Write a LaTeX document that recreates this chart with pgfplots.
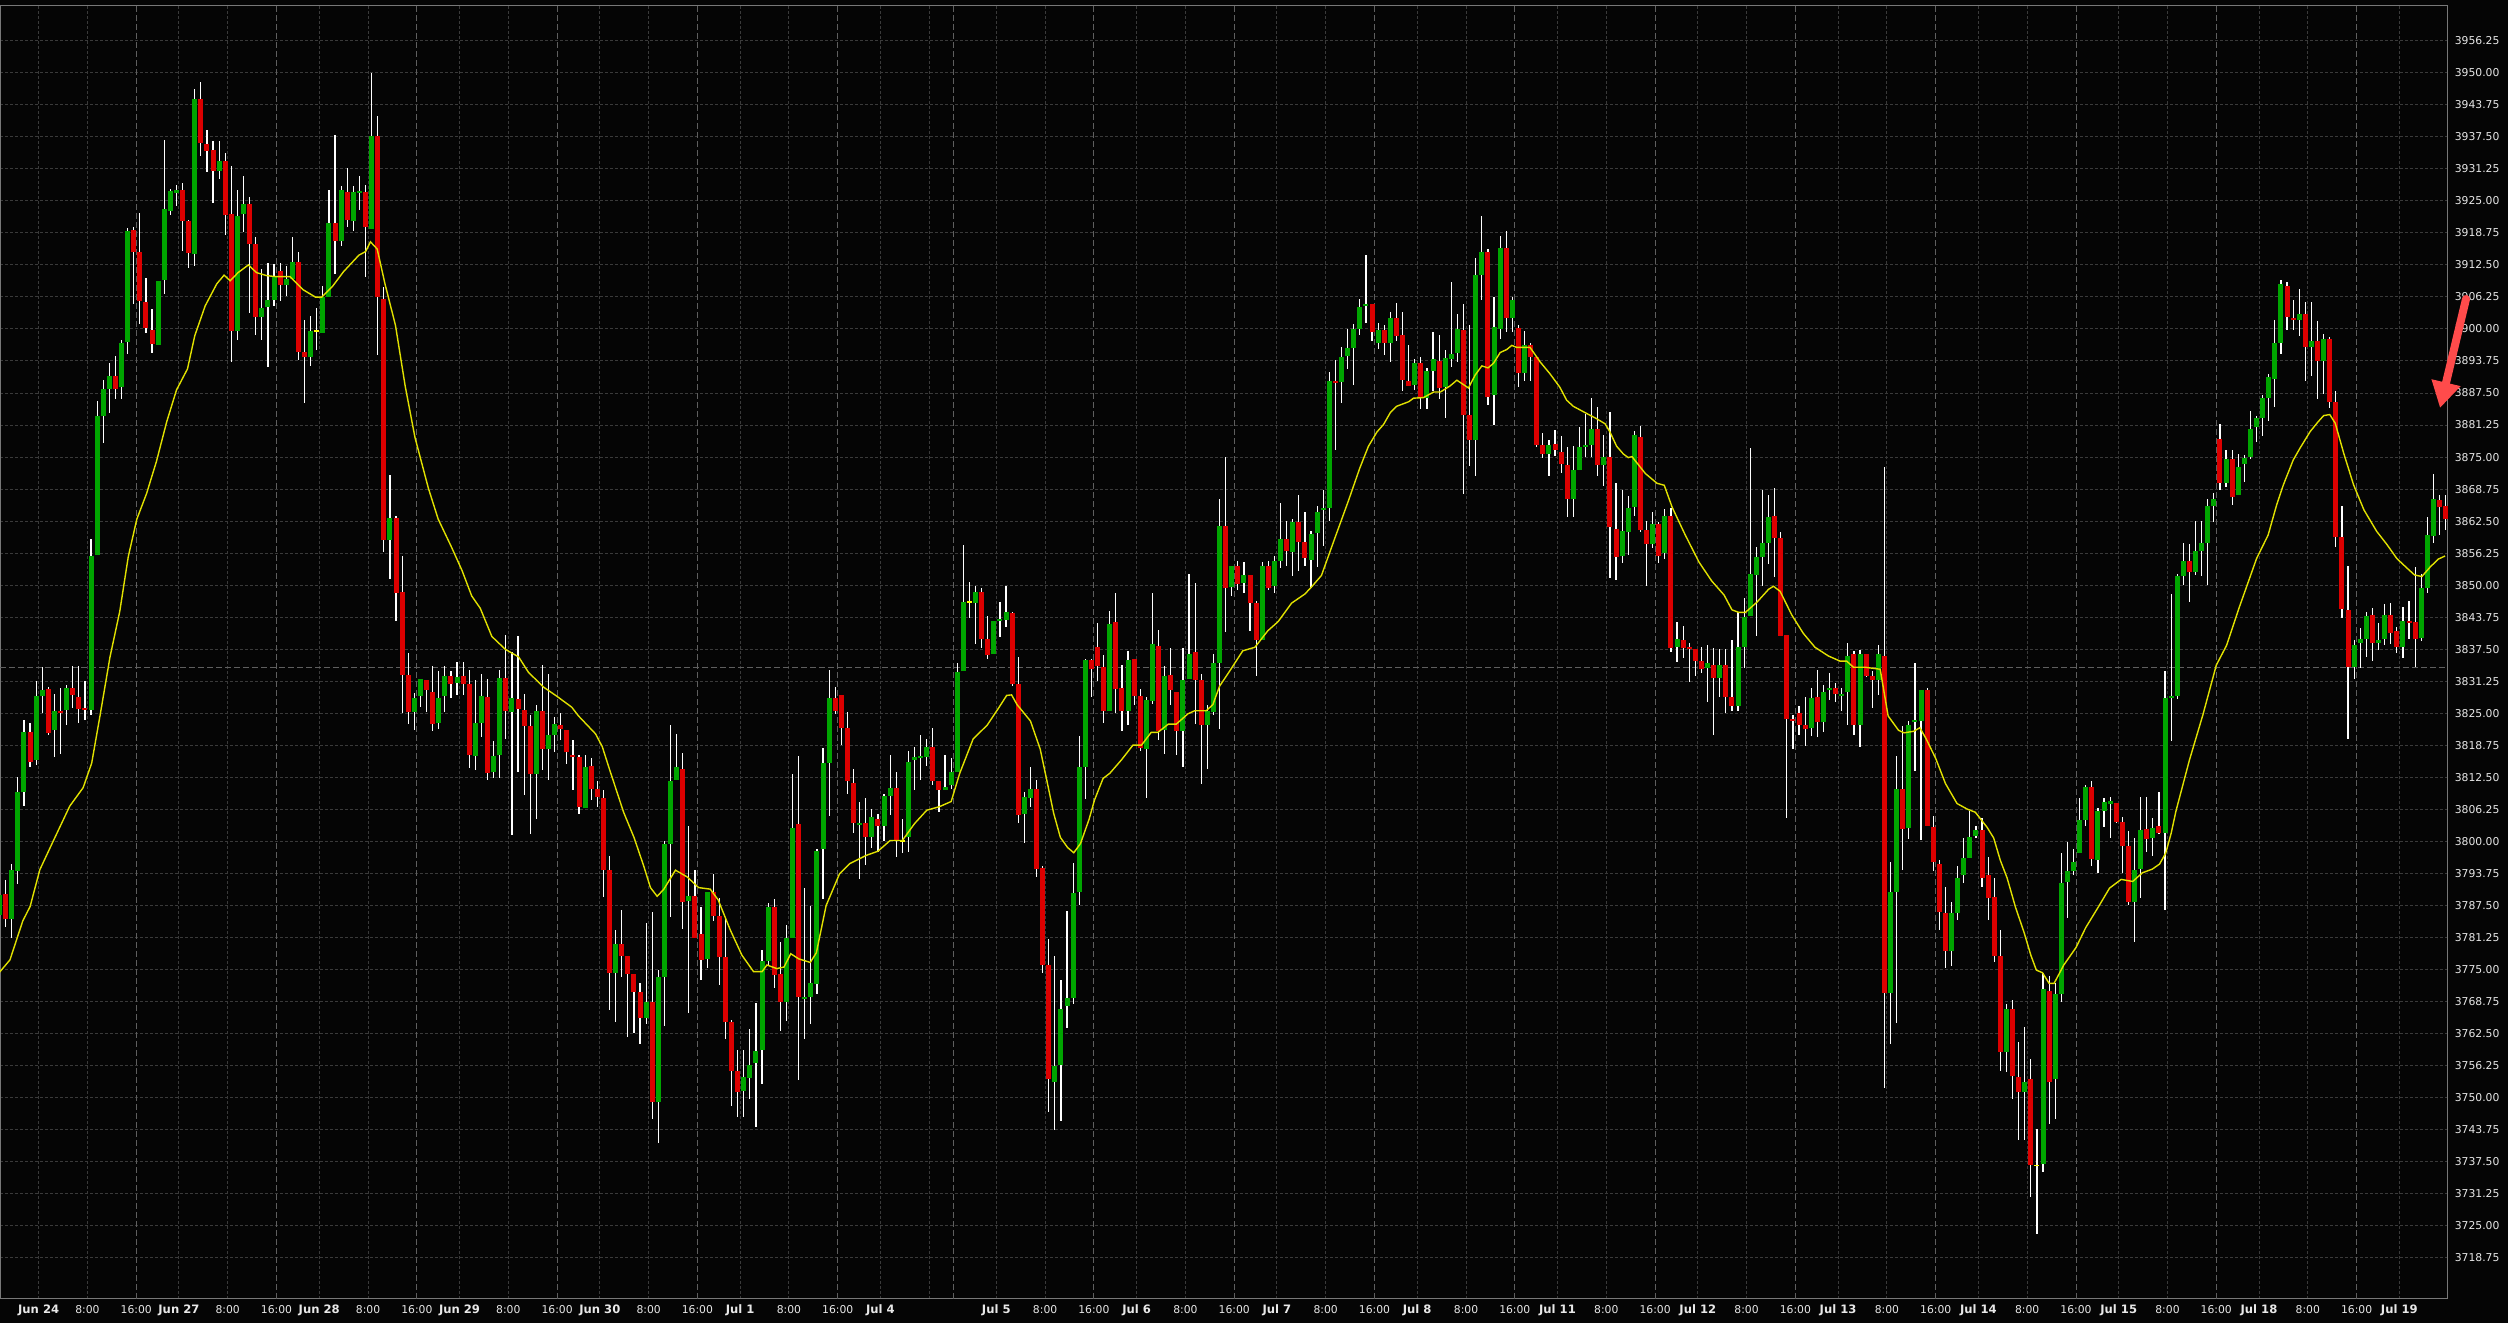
\documentclass[border=0pt]{standalone}
\usepackage{fontspec}
\setmainfont{DejaVu Sans}
\usepackage{pgfplots}
\pgfplotsset{compat=1.18}
\usepackage{pgfplotstable}
\usetikzlibrary{arrows.meta}

\definecolor{bgcol}{RGB}{5,5,5}
\definecolor{gridcol}{RGB}{58,58,58}
\definecolor{sesscol}{RGB}{95,95,95}
\definecolor{framecol}{RGB}{120,120,120}
\definecolor{txtcol}{RGB}{232,232,232}
\definecolor{upcol}{RGB}{0,165,0}
\definecolor{dncol}{RGB}{220,0,0}
\definecolor{dojicol}{RGB}{255,255,0}
\definecolor{macol}{RGB}{225,225,0}
\definecolor{arrowcol}{RGB}{255,75,75}

\newcommand\dt[1]{{\fontsize{5.8}{6}\selectfont\bfseries #1}}

% hourly candles: index, open, high, low, close
\pgfplotstableread{
k o h l c
0 3785.6 3791.5 3783.5 3789.5
1 3789.7 3792.5 3783.3 3784.8
2 3784.8 3795.7 3781.1 3794.5
3 3794.3 3812.5 3791.7 3809.7
4 3809.7 3823.7 3806.9 3821.4
5 3821.4 3823.1 3814.5 3815.6
6 3815.8 3831.3 3815.0 3828.4
7 3828.4 3834.1 3825.1 3829.5
8 3829.7 3830.2 3820.8 3821.2
9 3821.7 3828.8 3816.5 3825.5
10 3825.5 3830.0 3817.0 3825.1
11 3825.6 3830.5 3822.8 3830.0
12 3830.0 3834.3 3826.1 3828.5
13 3828.2 3834.3 3823.2 3825.8
14 3826.0 3831.3 3823.7 3825.7
15 3825.7 3859.0 3824.6 3855.7
16 3856.0 3886.0 3856.0 3883.1
17 3883.1 3890.0 3877.7 3888.3
18 3888.3 3893.3 3883.7 3890.8
19 3890.8 3894.7 3886.4 3888.3
20 3888.6 3897.8 3886.4 3897.3
21 3897.4 3919.7 3895.1 3919.2
22 3919.3 3919.9 3904.9 3915.0
23 3915.0 3922.7 3901.0 3905.4
24 3905.2 3909.9 3899.3 3900.1
25 3899.8 3904.0 3895.4 3897.1
26 3896.9 3909.4 3896.9 3909.4
27 3909.5 3936.9 3906.9 3923.4
28 3923.0 3927.4 3922.2 3927.0
29 3926.6 3928.1 3924.1 3927.2
30 3927.2 3928.5 3915.3 3921.0
31 3921.1 3921.3 3911.8 3914.8
32 3914.7 3946.9 3912.2 3944.9
33 3944.9 3948.2 3933.8 3936.2
34 3936.1 3938.8 3930.6 3934.7
35 3934.9 3936.7 3924.5 3930.9
36 3930.9 3936.7 3929.3 3932.8
37 3932.8 3934.3 3918.3 3922.2
38 3922.5 3931.8 3893.5 3899.7
39 3899.7 3927.2 3897.8 3922.0
40 3922.5 3929.9 3919.0 3924.4
41 3924.4 3925.8 3903.2 3916.6
42 3916.5 3918.0 3898.9 3902.4
43 3902.4 3911.8 3897.8 3904.1
44 3904.2 3912.8 3892.5 3905.7
45 3905.7 3912.7 3904.5 3910.2
46 3911.4 3912.9 3905.5 3908.5
47 3908.5 3912.2 3906.5 3909.7
48 3909.7 3918.0 3909.5 3913.1
49 3913.1 3915.1 3894.0 3895.6
50 3895.6 3901.7 3885.6 3894.6
51 3894.6 3902.5 3892.8 3899.7
52 3899.7 3904.1 3895.8 3899.7
53 3899.2 3908.4 3899.2 3906.2
54 3906.2 3927.1 3906.2 3920.6
55 3920.6 3937.9 3910.7 3917.2
56 3917.2 3927.9 3916.1 3927.1
57 3926.8 3931.4 3919.8 3921.3
58 3921.1 3927.9 3919.2 3926.8
59 3926.6 3929.8 3923.2 3926.9
60 3926.8 3928.1 3910.2 3919.9
61 3919.6 3950.0 3919.6 3937.6
62 3937.6 3941.5 3895.0 3906.2
63 3905.9 3908.2 3856.4 3858.9
64 3858.9 3871.6 3851.2 3863.2
65 3863.2 3863.6 3843.0 3848.5
66 3848.7 3855.7 3825.1 3832.5
67 3832.5 3836.8 3822.9 3825.3
68 3825.3 3829.0 3821.8 3828.1
69 3828.3 3831.7 3826.3 3831.7
70 3831.5 3831.5 3825.3 3829.6
71 3829.1 3834.2 3821.6 3822.9
72 3823.1 3833.2 3821.9 3828.1
73 3828.3 3834.3 3825.3 3832.2
74 3832.2 3833.2 3828.1 3830.8
75 3830.9 3835.0 3828.6 3832.2
76 3832.2 3835.0 3828.6 3830.8
77 3830.8 3833.5 3814.3 3816.9
78 3816.6 3831.5 3813.9 3823.1
79 3823.1 3832.7 3820.3 3828.4
80 3828.1 3831.7 3811.9 3813.3
81 3813.6 3819.6 3812.3 3816.6
82 3816.8 3833.5 3812.3 3832.0
83 3832.0 3840.2 3820.1 3825.4
84 3825.3 3837.0 3801.2 3828.1
85 3827.9 3840.2 3813.6 3825.9
86 3825.6 3828.8 3809.1 3822.6
87 3822.6 3824.6 3801.4 3813.1
88 3813.1 3826.6 3804.4 3825.5
89 3825.5 3834.5 3813.9 3818.1
90 3818.1 3832.7 3812.1 3820.8
91 3820.8 3824.3 3817.4 3822.9
92 3822.7 3825.0 3819.8 3821.9
93 3821.7 3821.7 3815.2 3817.4
94 3816.9 3819.9 3810.0 3816.6
95 3816.5 3816.9 3805.3 3806.8
96 3806.6 3816.9 3806.6 3814.5
97 3814.7 3816.3 3808.1 3810.2
98 3810.2 3811.9 3806.8 3808.6
99 3808.4 3810.0 3789.1 3794.5
100 3794.5 3797.1 3767.2 3774.4
101 3774.4 3782.7 3764.7 3780.0
102 3780.0 3786.6 3773.6 3777.6
103 3777.6 3777.6 3761.8 3774.1
104 3774.1 3774.1 3762.6 3770.7
105 3770.7 3772.4 3760.5 3765.6
106 3765.6 3784.2 3764.4 3768.6
107 3768.6 3786.3 3745.9 3749.2
108 3749.2 3775.0 3741.2 3773.6
109 3773.5 3800.0 3764.0 3799.5
110 3799.5 3822.7 3785.2 3811.8
111 3812.0 3821.0 3812.0 3814.5
112 3814.1 3817.3 3783.0 3788.2
113 3788.4 3803.1 3766.6 3789.4
114 3789.3 3794.4 3781.1 3781.1
115 3782.0 3787.2 3772.9 3776.9
116 3777.1 3790.1 3775.3 3790.1
117 3790.1 3793.6 3784.5 3785.4
118 3785.4 3788.9 3772.0 3777.4
119 3777.4 3784.9 3761.4 3764.7
120 3764.7 3765.2 3748.4 3755.3
121 3755.3 3759.3 3746.3 3751.1
122 3751.3 3759.3 3746.3 3754.0
123 3753.9 3763.5 3749.8 3756.3
124 3756.7 3768.5 3744.2 3759.1
125 3759.3 3778.8 3752.7 3776.6
126 3776.6 3788.0 3775.8 3787.2
127 3787.2 3788.8 3771.4 3773.9
128 3774.2 3780.4 3763.1 3768.6
129 3768.6 3783.7 3764.9 3781.2
130 3781.1 3813.2 3781.1 3802.7
131 3803.4 3816.7 3753.4 3769.6
132 3769.4 3791.0 3761.5 3769.7
133 3769.7 3787.5 3764.3 3772.4
134 3772.2 3798.5 3770.2 3798.1
135 3798.6 3818.3 3788.8 3815.3
136 3815.3 3833.5 3805.0 3828.0
137 3828.0 3830.2 3824.8 3825.5
138 3828.5 3828.5 3818.8 3822.2
139 3822.2 3825.2 3809.2 3811.8
140 3811.4 3814.1 3801.7 3803.7
141 3803.3 3807.8 3792.7 3803.7
142 3803.7 3808.4 3795.5 3800.9
143 3800.9 3806.4 3798.8 3804.8
144 3804.4 3805.3 3798.0 3803.1
145 3803.1 3809.2 3800.0 3808.9
146 3808.9 3816.9 3805.1 3810.4
147 3810.4 3813.6 3797.0 3800.2
148 3800.2 3804.3 3797.8 3800.2
149 3800.8 3817.6 3798.0 3815.5
150 3815.9 3818.4 3810.0 3816.5
151 3816.3 3820.8 3812.0 3816.7
152 3816.5 3820.0 3814.7 3818.4
153 3818.4 3822.1 3811.0 3811.8
154 3811.8 3811.8 3805.7 3810.0
155 3810.0 3816.9 3810.0 3810.6
156 3811.0 3816.3 3810.2 3813.6
157 3813.6 3834.9 3813.6 3833.1
158 3833.2 3857.8 3833.2 3846.8
159 3846.7 3850.7 3843.7 3846.7
160 3846.5 3849.9 3838.6 3848.6
161 3848.6 3849.4 3837.8 3839.6
162 3839.6 3843.9 3835.7 3836.3
163 3836.6 3843.0 3836.6 3843.0
164 3843.1 3846.7 3840.0 3843.5
165 3843.3 3849.9 3841.9 3844.7
166 3844.5 3844.8 3830.3 3830.7
167 3830.7 3836.1 3803.7 3805.2
168 3805.3 3809.6 3799.8 3808.6
169 3808.4 3814.5 3806.8 3810.2
170 3810.2 3812.0 3793.1 3794.7
171 3794.9 3795.3 3774.3 3775.9
172 3775.9 3780.9 3747.3 3753.6
173 3753.1 3777.7 3743.8 3756.1
174 3756.3 3773.0 3745.4 3767.3
175 3767.9 3786.5 3763.6 3769.4
176 3769.4 3795.8 3768.3 3790.0
177 3790.2 3820.6 3787.6 3814.5
178 3814.5 3835.7 3808.2 3835.4
179 3835.4 3835.7 3828.1 3833.7
180 3837.9 3842.7 3831.4 3834.3
181 3834.0 3836.4 3823.1 3825.5
182 3825.5 3844.9 3825.5 3842.4
183 3842.8 3848.5 3825.1 3829.8
184 3829.9 3834.4 3821.6 3825.5
185 3825.5 3837.2 3822.7 3835.4
186 3835.7 3835.7 3826.7 3828.4
187 3828.3 3829.7 3817.7 3818.3
188 3818.0 3828.2 3808.4 3827.7
189 3827.4 3848.5 3826.9 3838.5
190 3838.2 3841.3 3819.8 3821.6
191 3821.8 3834.3 3817.1 3832.3
192 3832.5 3837.7 3826.7 3829.6
193 3829.1 3829.1 3816.8 3821.6
194 3821.6 3837.7 3814.6 3831.6
195 3831.7 3852.2 3831.7 3836.6
196 3836.9 3850.5 3822.9 3831.5
197 3831.6 3832.6 3811.3 3822.7
198 3822.7 3826.7 3814.1 3825.4
199 3825.3 3836.6 3824.7 3834.8
200 3834.8 3866.9 3822.0 3861.5
201 3861.6 3875.1 3840.9 3849.4
202 3849.6 3853.8 3848.0 3853.8
203 3853.7 3854.8 3849.1 3850.3
204 3850.5 3854.5 3848.4 3851.9
205 3851.9 3851.9 3841.1 3846.5
206 3846.5 3846.9 3832.3 3839.3
207 3839.3 3854.5 3839.3 3853.8
208 3853.8 3854.8 3849.1 3849.4
209 3849.8 3855.7 3848.5 3854.7
210 3854.8 3866.0 3853.4 3859.0
211 3859.0 3862.6 3853.8 3856.7
212 3856.5 3862.9 3851.9 3862.3
213 3862.3 3867.6 3852.8 3858.5
214 3858.5 3864.2 3853.8 3855.3
215 3855.0 3860.6 3849.4 3860.1
216 3860.2 3865.4 3853.5 3864.3
217 3864.6 3868.6 3857.7 3865.0
218 3865.1 3891.7 3862.6 3889.9
219 3889.9 3894.0 3876.3 3889.5
220 3889.7 3896.4 3885.5 3894.5
221 3894.8 3900.0 3892.2 3896.2
222 3896.3 3900.9 3889.1 3900.0
223 3900.0 3905.9 3898.9 3904.3
224 3904.5 3914.4 3901.1 3904.9
225 3904.9 3904.9 3897.7 3899.5
226 3897.2 3901.1 3896.1 3899.9
227 3899.9 3900.8 3895.0 3897.3
228 3897.2 3903.4 3893.5 3902.2
229 3902.2 3905.1 3897.7 3898.7
230 3898.8 3903.4 3888.0 3890.1
231 3889.8 3896.9 3888.9 3888.9
232 3889.1 3894.2 3888.0 3893.4
233 3893.4 3894.5 3884.3 3886.5
234 3886.6 3892.4 3884.4 3891.9
235 3891.9 3899.4 3888.0 3894.2
236 3893.8 3898.8 3886.4 3888.4
237 3888.6 3895.9 3882.7 3894.4
238 3894.2 3909.1 3892.6 3895.2
239 3895.3 3903.0 3893.6 3899.9
240 3899.9 3904.8 3867.8 3883.2
241 3883.2 3900.8 3873.2 3878.3
242 3878.3 3913.9 3871.3 3910.5
243 3910.5 3922.0 3905.7 3915.0
244 3915.0 3915.7 3885.1 3886.7
245 3887.1 3906.2 3881.3 3900.4
246 3900.1 3918.2 3898.0 3915.8
247 3915.8 3919.2 3899.4 3902.2
248 3902.2 3906.2 3899.4 3905.7
249 3900.1 3900.8 3888.7 3891.5
250 3891.5 3899.7 3889.8 3896.9
251 3896.9 3897.3 3889.8 3894.5
252 3894.5 3894.5 3876.9 3877.4
253 3877.4 3879.7 3874.9 3875.7
254 3875.7 3878.3 3871.3 3877.4
255 3877.6 3880.2 3875.3 3876.4
256 3876.0 3879.2 3871.9 3873.6
257 3873.5 3876.9 3863.3 3866.8
258 3866.8 3877.1 3863.3 3872.4
259 3872.4 3880.8 3872.4 3877.0
260 3877.0 3883.4 3875.0 3877.4
261 3877.4 3886.5 3875.0 3880.5
262 3880.5 3884.8 3871.4 3873.5
263 3873.5 3879.4 3869.4 3875.1
264 3875.1 3883.9 3851.5 3861.4
265 3860.9 3870.0 3851.1 3855.6
266 3855.8 3868.6 3854.4 3860.5
267 3860.4 3867.5 3855.8 3865.1
268 3865.2 3880.0 3863.6 3879.3
269 3879.0 3881.0 3860.4 3860.8
270 3860.7 3862.6 3849.8 3858.0
271 3858.1 3864.2 3857.2 3861.9
272 3861.9 3862.3 3854.4 3855.8
273 3856.2 3864.8 3855.2 3863.5
274 3863.5 3865.0 3836.9 3837.8
275 3838.0 3842.9 3835.0 3839.5
276 3839.3 3842.0 3835.8 3837.8
277 3837.9 3838.8 3831.1 3837.5
278 3837.5 3837.5 3832.3 3835.2
279 3835.2 3837.9 3832.9 3833.7
280 3833.8 3838.3 3827.3 3834.8
281 3834.4 3837.8 3820.7 3831.9
282 3831.9 3837.5 3828.1 3834.4
283 3834.4 3837.5 3825.1 3828.2
284 3828.2 3839.3 3825.5 3826.4
285 3826.4 3844.7 3825.4 3837.9
286 3837.9 3847.5 3833.8 3843.8
287 3844.0 3876.7 3844.0 3852.2
288 3852.0 3857.4 3840.0 3855.5
289 3855.5 3868.6 3849.8 3858.2
290 3858.2 3867.7 3854.1 3863.3
291 3863.5 3868.9 3851.6 3859.2
292 3859.2 3860.3 3840.1 3840.1
293 3840.3 3840.3 3804.6 3823.9
294 3824.0 3824.7 3818.1 3823.6
295 3825.0 3826.4 3820.8 3822.7
296 3822.7 3828.1 3818.6 3822.0
297 3822.2 3830.0 3820.6 3828.0
298 3828.1 3833.5 3820.3 3823.3
299 3823.3 3830.5 3821.4 3829.1
300 3829.6 3832.8 3827.7 3829.9
301 3830.0 3830.9 3827.3 3828.8
302 3828.5 3830.0 3825.4 3828.8
303 3829.1 3838.7 3822.7 3836.2
304 3836.6 3837.1 3820.8 3822.7
305 3822.7 3837.3 3818.4 3836.6
306 3836.6 3836.6 3832.1 3832.3
307 3832.2 3833.3 3826.0 3831.5
308 3831.5 3838.3 3828.6 3836.6
309 3836.2 3873.0 3751.9 3770.5
310 3770.5 3796.0 3760.5 3790.1
311 3790.2 3816.6 3764.6 3810.3
312 3810.3 3822.5 3794.4 3802.4
313 3802.6 3823.5 3800.5 3822.8
314 3823.4 3834.8 3813.8 3823.7
315 3823.5 3829.6 3800.2 3829.6
316 3829.6 3830.0 3803.1 3803.1
317 3802.9 3805.0 3794.3 3796.0
318 3795.6 3796.3 3782.7 3786.3
319 3786.1 3791.1 3775.4 3778.6
320 3778.6 3788.2 3775.7 3786.1
321 3786.1 3795.3 3784.6 3792.9
322 3793.4 3800.7 3791.9 3796.8
323 3796.8 3806.0 3796.8 3800.8
324 3801.1 3803.0 3800.7 3802.3
325 3802.3 3804.5 3791.1 3792.9
326 3793.4 3797.0 3784.6 3789.0
327 3789.2 3792.9 3776.4 3777.6
328 3777.6 3782.7 3755.2 3758.9
329 3758.9 3768.3 3755.0 3767.3
330 3767.3 3769.1 3749.7 3754.3
331 3754.0 3760.9 3741.7 3751.2
332 3751.2 3763.8 3741.7 3753.1
333 3753.6 3757.6 3730.6 3736.8
334 3736.8 3743.9 3723.5 3736.8
335 3737.1 3774.4 3735.6 3771.2
336 3770.8 3773.7 3744.8 3753.1
337 3753.6 3772.3 3745.8 3770.3
338 3770.3 3797.8 3768.6 3791.9
339 3792.1 3799.9 3785.1 3794.3
340 3794.3 3798.5 3793.4 3796.0
341 3797.8 3808.4 3797.8 3804.2
342 3804.2 3811.1 3803.1 3810.6
343 3810.6 3811.8 3795.3 3796.5
344 3796.3 3806.5 3793.9 3806.0
345 3806.0 3808.4 3802.8 3807.7
346 3807.4 3808.6 3800.7 3807.9
347 3807.6 3807.6 3803.6 3803.8
348 3803.9 3804.8 3793.9 3799.2
349 3799.2 3802.1 3787.6 3788.2
350 3788.2 3800.7 3780.3 3794.5
351 3794.6 3808.6 3789.0 3802.3
352 3802.4 3808.6 3798.0 3800.4
353 3800.6 3804.5 3797.1 3802.6
354 3803.1 3809.7 3801.4 3801.6
355 3801.6 3833.2 3786.6 3828.0
356 3828.0 3848.2 3819.6 3828.3
357 3828.3 3852.2 3827.8 3851.9
358 3851.8 3858.2 3850.0 3854.7
359 3854.7 3858.0 3846.8 3852.6
360 3852.6 3862.5 3852.0 3856.7
361 3856.7 3862.5 3851.8 3858.2
362 3858.3 3866.9 3850.0 3865.5
363 3865.5 3868.1 3862.3 3866.8
364 3878.5 3881.5 3868.5 3870.0
365 3870.0 3876.4 3869.2 3874.6
366 3874.6 3876.4 3865.7 3867.3
367 3867.6 3875.6 3867.6 3873.0
368 3873.6 3875.5 3870.2 3874.8
369 3875.1 3884.0 3874.6 3880.5
370 3880.9 3883.1 3878.0 3882.6
371 3882.7 3887.2 3879.1 3886.5
372 3886.6 3891.2 3882.0 3890.7
373 3890.3 3901.8 3884.8 3897.3
374 3897.3 3909.6 3895.1 3908.8
375 3908.4 3909.2 3899.8 3902.4
376 3902.2 3905.7 3899.8 3901.9
377 3901.8 3907.9 3898.7 3902.9
378 3902.9 3905.3 3889.9 3896.5
379 3896.4 3905.3 3890.8 3897.7
380 3897.7 3901.6 3886.4 3893.8
381 3893.8 3899.0 3887.4 3898.0
382 3898.0 3898.5 3884.5 3885.8
383 3885.7 3887.9 3857.4 3859.4
384 3859.4 3865.5 3843.7 3845.3
385 3845.2 3853.8 3820.1 3834.1
386 3834.1 3839.3 3831.8 3838.3
387 3838.7 3841.6 3833.9 3839.5
388 3839.5 3844.8 3835.9 3844.0
389 3844.2 3845.6 3835.3 3838.8
390 3838.8 3842.7 3837.4 3839.3
391 3839.5 3846.3 3838.3 3844.2
392 3844.2 3846.5 3838.5 3840.7
393 3841.1 3841.9 3836.7 3837.9
394 3837.9 3845.7 3835.9 3843.0
395 3843.0 3847.0 3839.5 3842.6
396 3842.9 3853.6 3834.1 3839.6
397 3839.8 3852.2 3839.2 3849.4
398 3849.4 3863.4 3848.5 3859.8
399 3859.7 3871.7 3858.3 3866.8
400 3866.6 3867.6 3859.8 3865.3
401 3865.4 3867.6 3860.8 3862.9
}\candles

\begin{document}
\begin{tikzpicture}
\fill[bgcol] (0,-12pt) rectangle (1254pt,649.5pt);
\useasboundingbox (0,-12pt) rectangle (1254pt,649.5pt);
\begin{axis}[
    scale only axis,
    width=1224pt, height=646.5pt,
    xmin=0.066, xmax=401.38,
    ymin=3710.73, ymax=3963.02,
    axis line style={draw=framecol, line width=0.5pt},
    major tick length=0pt,
    scaled y ticks=false,
    ytick pos=right, yticklabel pos=right,
    ytick={3718.75,3725,3731.25,3737.5,3743.75,3750,3756.25,3762.5,3768.75,3775,3781.25,3787.5,3793.75,3800,3806.25,3812.5,3818.75,3825,3831.25,3837.5,3843.75,3850,3856.25,3862.5,3868.75,3875,3881.25,3887.5,3893.75,3900,3906.25,3912.5,3918.75,3925,3931.25,3937.5,3943.75,3950,3956.25},
    yticklabel={\pgfmathprintnumber[fixed,fixed zerofill,precision=2,1000 sep={},assume math mode=true]{\tick}},
    yticklabel style={font=\fontsize{5.4}{6}\selectfont, text=txtcol, anchor=west, inner sep=0pt, xshift=3.2pt},
    xtick={6.4,14.4,29.4,37.4,52.4,60.4,75.4,83.4,98.4,106.4,121.4,129.4,144.4,152.4,163.4,171.4,186.4,194.4,209.4,217.4,232.4,240.4,255.4,263.4,278.4,286.4,301.4,309.4,324.4,332.4,347.4,355.4,370.4,378.4,393.4},
    xticklabels={\dt{Jun 24},8:00,\dt{Jun 27},8:00,\dt{Jun 28},8:00,\dt{Jun 29},8:00,\dt{Jun 30},8:00,\dt{Jul 1},8:00,\dt{Jul 4},{},\dt{Jul 5},8:00,\dt{Jul 6},8:00,\dt{Jul 7},8:00,\dt{Jul 8},8:00,\dt{Jul 11},8:00,\dt{Jul 12},8:00,\dt{Jul 13},8:00,\dt{Jul 14},8:00,\dt{Jul 15},8:00,\dt{Jul 18},8:00,\dt{Jul 19}},
    xticklabel style={font=\fontsize{5.4}{6}\selectfont, text=txtcol, anchor=base, inner sep=0pt, yshift=-7.4pt},
    grid=major,
    major grid style={draw=gridcol, line width=0.5pt, dash pattern=on 1.5pt off 1pt},
    extra x ticks={22.4,45.4,68.4,91.4,114.4,137.4,156.4,179.4,202.4,225.4,248.4,271.4,294.4,317.4,340.4,363.4,386.4},
    extra x tick labels={16:00,16:00,16:00,16:00,16:00,16:00,{},16:00,16:00,16:00,16:00,16:00,16:00,16:00,16:00,16:00,16:00},
    extra x tick style={grid=major, major grid style={draw=sesscol, line width=0.5pt, dash pattern=on 3pt off 1.5pt}},
    extra y ticks={3833.85},
    extra y tick labels={},
    extra y tick style={grid=major, major grid style={draw=sesscol, line width=0.5pt, dash pattern=on 3pt off 1.5pt}},
]

% wicks
\addplot[draw=none, mark=none,
    error bars/.cd, y dir=both, y explicit, error mark=none,
    error bar style={draw=white, solid, line width=0.6pt}]
  table[x=k, y expr={(\thisrow{h}+\thisrow{l})/2}, y error expr={(\thisrow{h}-\thisrow{l})/2}] {\candles};

% up bodies
\addplot[draw=none, mark=none,
    restrict expr to domain={\thisrow{c}-\thisrow{o}}{0.01:1000},
    error bars/.cd, y dir=both, y explicit, error mark=none,
    error bar style={draw=upcol, solid, line width=2.5pt}]
  table[x=k, y expr={(\thisrow{o}+\thisrow{c})/2}, y error expr={max(abs(\thisrow{c}-\thisrow{o})/2,0.12)}] {\candles};

% down bodies
\addplot[draw=none, mark=none,
    restrict expr to domain={\thisrow{o}-\thisrow{c}}{0.01:1000},
    error bars/.cd, y dir=both, y explicit, error mark=none,
    error bar style={draw=dncol, solid, line width=2.5pt}]
  table[x=k, y expr={(\thisrow{o}+\thisrow{c})/2}, y error expr={max(abs(\thisrow{c}-\thisrow{o})/2,0.12)}] {\candles};

% unchanged (open = close)
\addplot[draw=none, mark=none,
    restrict expr to domain={abs(\thisrow{c}-\thisrow{o})}{0:0.005},
    error bars/.cd, y dir=both, y explicit, error mark=none,
    error bar style={draw=dojicol, solid, line width=2.5pt}]
  table[x=k, y expr={(\thisrow{o}+\thisrow{c})/2}, y error expr={0.14}] {\candles};

% moving average
\addplot[macol, solid, line width=0.7pt, mark=none] coordinates {
(0,3774.5) (1.7,3776.9) (3.8,3784.5) (5.0,3787.3) (6.6,3794.5) (8.8,3800.1) (11.5,3806.9) (13.7,3810.5) (15.1,3815.3) (16.5,3824.8) (18.1,3836.0) (19.7,3844.9) (21.1,3855.6) (22.5,3862.9) (24.1,3867.9) (25.7,3874.1) (27.4,3881.9) (29.0,3888.1) (30.8,3892.2) (32.0,3898.7) (33.7,3904.5) (35.6,3908.8) (36.8,3910.5) (37.8,3909.4) (39.1,3911.0) (40.8,3912.5) (42.1,3911.0) (43.8,3910.4) (45.4,3910.2) (47.6,3910.2) (49.7,3907.7) (51.8,3906.2) (52.8,3906.2) (54.5,3908.2) (56.4,3911.2) (58.9,3914.4) (60.0,3915.1) (60.8,3917.0) (61.9,3915.6) (63.2,3908.7) (64.9,3900.7) (66.5,3888.8) (68.1,3878.8) (70.3,3868.9) (71.9,3862.9) (74.1,3857.4) (75.8,3852.9) (77.4,3847.9) (78.8,3845.5) (80.7,3840.0) (82.9,3837.5) (85.1,3836.0) (86.7,3833.0) (89.2,3830.1) (91.4,3828.3) (93.8,3826.2) (94.9,3824.5) (97.7,3821.0) (98.8,3818.5) (99.9,3814.4) (102.3,3805.7) (104.0,3800.8) (105.6,3795.2) (106.7,3791.0) (107.8,3789.3) (108.9,3790.7) (110.8,3794.4) (112.7,3793.1) (114.6,3791.0) (116.5,3790.7) (117.8,3788.6) (119.8,3782.7) (121.7,3777.8) (123.6,3774.6) (125.0,3774.6) (125.8,3775.9) (127.4,3775.2) (128.6,3775.5) (129.7,3778.1) (131.0,3777.1) (132.9,3776.4) (133.9,3778.3) (135.5,3787.5) (137.7,3793.7) (139.4,3795.7) (142.1,3797.3) (144.0,3798.1) (146.0,3800.2) (148.0,3800.2) (150.0,3803.5) (152.0,3806.1) (154.1,3806.8) (156.0,3807.8) (157.4,3813.3) (159.6,3820.0) (161.9,3822.7) (163.7,3825.9) (165.1,3828.5) (165.9,3828.6) (166.8,3826.7) (169.0,3823.5) (170.6,3818.0) (171.7,3811.8) (172.8,3805.5) (173.9,3800.8) (175.1,3798.8) (176.1,3797.8) (177.2,3799.6) (178.6,3804.3) (179.5,3808.1) (180.9,3812.3) (182.0,3813.3) (183.9,3815.9) (185.8,3818.8) (187.2,3818.8) (188.8,3821.3) (189.9,3821.3) (191.6,3822.9) (192.9,3822.9) (194.8,3824.9) (195.9,3825.5) (197.8,3825.5) (198.9,3826.7) (200.0,3830.3) (201.9,3833.7) (203.8,3837.2) (205.8,3837.9) (207.9,3841.1) (209.6,3842.9) (211.8,3846.5) (214.0,3848.3) (215.1,3849.7) (216.7,3851.9) (218.9,3859.2) (221.1,3866.4) (223.0,3872.9) (224.4,3877.1) (225.8,3879.9) (226.9,3881.4) (228.0,3883.7) (229.0,3884.9) (231.0,3885.8) (231.8,3886.5) (233.4,3886.6) (235.1,3887.7) (236.2,3887.7) (237.8,3888.9) (238.9,3890.0) (240.8,3888.5) (241.9,3891.0) (243.0,3892.8) (244.0,3892.4) (244.9,3893.3) (246.0,3895.4) (247.1,3896.0) (247.9,3896.8) (248.7,3896.4) (250.9,3896.4) (252.6,3893.5) (254.2,3891.2) (255.8,3888.6) (256.9,3886.1) (258.0,3884.9) (260.2,3883.5) (261.8,3882.5) (263.2,3881.5) (264.0,3879.9) (265.1,3877.1) (266.2,3875.6) (267.0,3874.9) (267.6,3875.1) (269.8,3871.8) (271.7,3869.9) (272.9,3869.5) (274.2,3865.2) (276.3,3859.9) (278.6,3854.5) (280.7,3850.8) (282.7,3848.1) (284.0,3845.2) (285.1,3844.7) (286.2,3844.7) (288.1,3846.7) (290.0,3849.2) (290.8,3849.8) (291.9,3848.8) (293.8,3844.2) (295.7,3840.6) (297.6,3837.9) (299.8,3836.2) (301.7,3835.2) (302.8,3835.2) (303.9,3834.0) (305.8,3834.0) (307.7,3833.7) (308.3,3833.6) (309.6,3824.5) (311.3,3821.7) (312.2,3821.2) (313.8,3821.5) (314.8,3822.2) (315.8,3820.1) (317.4,3816.2) (319.0,3811.3) (320.9,3807.4) (322.6,3806.3) (323.9,3805.7) (325.8,3802.8) (326.9,3800.7) (328.0,3796.3) (329.1,3792.9) (330.5,3787.1) (331.9,3782.2) (333.0,3777.8) (333.9,3774.9) (334.9,3774.4) (336.0,3772.3) (336.8,3772.3) (338.4,3775.9) (340.4,3779.3) (342.0,3783.2) (344.0,3787.1) (345.9,3790.9) (347.8,3792.6) (349.7,3792.2) (351.3,3793.9) (352.9,3794.6) (354.1,3795.6) (355.1,3797.7) (356.0,3801.6) (356.8,3806.0) (359.0,3815.9) (361.2,3824.7) (363.4,3834.4) (365.1,3838.3) (367.2,3845.8) (370.0,3855.2) (371.9,3859.8) (373.3,3865.7) (374.4,3869.6) (376.0,3874.4) (377.1,3876.7) (378.8,3880.0) (380.1,3881.9) (381.0,3883.1) (382.0,3883.3) (382.9,3881.6) (384.3,3875.7) (385.9,3869.6) (387.6,3864.7) (389.7,3860.5) (391.4,3857.9) (393.0,3855.2) (394.7,3853.3) (395.9,3852.0) (397.1,3851.7) (398.5,3853.6) (399.8,3855.1) (400.9,3855.7)
};
\end{axis}
\draw[arrowcol, line width=4pt, line cap=round, -{Triangle[width=14pt,length=13pt]}] (1233pt,500pt) -- (1220pt,445.5pt);
\end{tikzpicture}
\end{document}
